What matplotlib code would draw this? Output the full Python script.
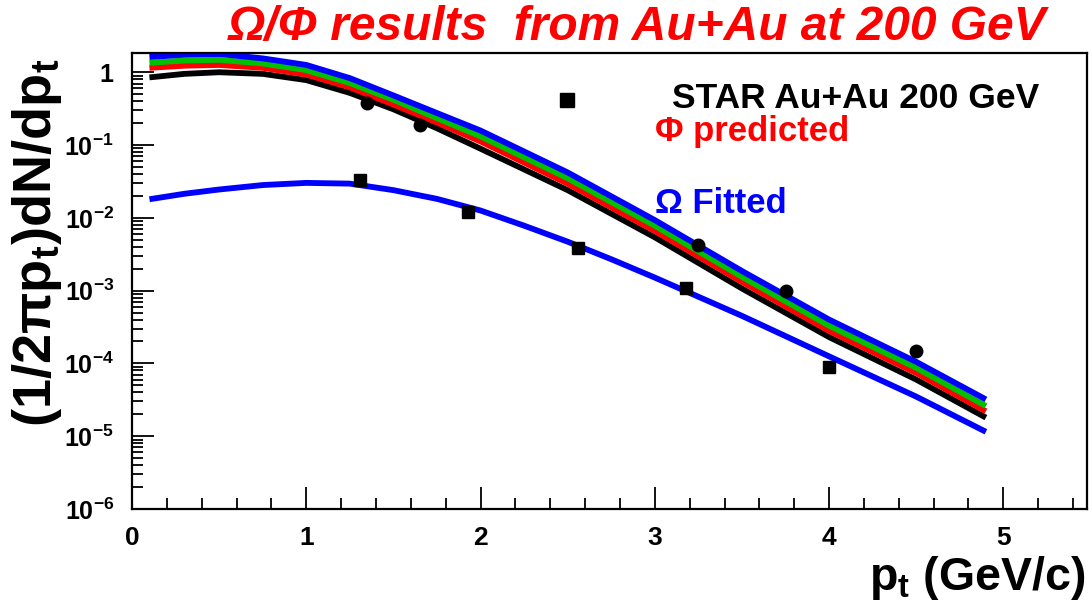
import numpy as np
import matplotlib.pyplot as plt
from matplotlib.ticker import FixedLocator, FixedFormatter, MultipleLocator, LogLocator, NullFormatter

# model curves: (1/2 pi pt) dN/dpt vs pt (GeV/c)
pt_model = [0.1, 0.3, 0.5, 0.75, 1.0, 1.25, 1.5, 1.75, 2.0, 2.5, 3.0, 3.5, 4.0, 4.5, 4.9]
phi_blue = [1.62, 1.74, 1.78, 1.55, 1.26, 0.83, 0.48, 0.275, 0.158, 0.042, 9.3e-3, 1.86e-3, 4.0e-4, 1.05e-4, 3.2e-5]
phi_green = [1.35, 1.45, 1.48, 1.32, 1.07, 0.71, 0.42, 0.234, 0.132, 0.035, 7.8e-3, 1.55e-3, 3.3e-4, 8.7e-5, 2.6e-5]
phi_red = [1.15, 1.23, 1.26, 1.15, 0.93, 0.62, 0.36, 0.204, 0.112, 0.0295, 6.6e-3, 1.32e-3, 2.8e-4, 7.4e-5, 2.2e-5]
phi_black = [0.85, 0.95, 1.0, 0.95, 0.78, 0.52, 0.31, 0.17, 0.089, 0.024, 5.4e-3, 1.07e-3, 2.3e-4, 6.0e-5, 1.8e-5]

pt_omega = [0.1, 0.3, 0.5, 0.75, 1.0, 1.25, 1.5, 1.75, 2.0, 2.25, 2.5, 2.75, 3.0, 3.5, 4.0, 4.5, 4.9]
omega_fit = [0.018, 0.0214, 0.0245, 0.0282, 0.0302, 0.0295, 0.024, 0.0182, 0.0126, 7.8e-3, 4.7e-3,
             2.7e-3, 1.51e-3, 4.5e-4, 1.25e-4, 3.5e-5, 1.15e-5]

# STAR data points
omega_pt = [1.31, 1.93, 2.56, 3.18, 4.0]
omega_y = [0.033, 0.012, 3.8e-3, 1.1e-3, 9.0e-5]
phi_pt = [1.35, 1.65, 3.25, 3.75, 4.5]
phi_y = [0.38, 0.19, 4.2e-3, 1.0e-3, 1.5e-4]

x_ticks = [0, 1, 2, 3, 4, 5]
y_ticks = [1e-6, 1e-5, 1e-4, 1e-3, 1e-2, 1e-1, 1]
y_labels = [r'$\mathbf{10^{-6}}$', r'$\mathbf{10^{-5}}$', r'$\mathbf{10^{-4}}$', r'$\mathbf{10^{-3}}$',
            r'$\mathbf{10^{-2}}$', r'$\mathbf{10^{-1}}$', r'$\mathbf{1}$']

plt.rcParams['font.family'] = ['Liberation Sans', 'DejaVu Sans']
plt.rcParams['mathtext.fontset'] = 'custom'
plt.rcParams['mathtext.rm'] = 'Liberation Sans'
plt.rcParams['mathtext.bf'] = 'Liberation Sans:bold'
plt.rcParams['mathtext.it'] = 'Liberation Sans:italic'

fig = plt.figure(figsize=(10.92, 6.04), dpi=100)
ax = fig.add_axes([0.1209, 0.1573, 0.8745, 0.755])

ax.plot(pt_model, phi_black, color='black', lw=4.2, solid_capstyle='butt')
ax.plot(pt_model, phi_red, color='#ff0000', lw=4.2, solid_capstyle='butt')
ax.plot(pt_model, phi_green, color='#00c000', lw=4.2, solid_capstyle='butt')
ax.plot(pt_model, phi_blue, color='#0000ff', lw=4.2, solid_capstyle='butt')
ax.plot(pt_omega, omega_fit, color='#0000ff', lw=4.2, solid_capstyle='butt')

ax.plot(omega_pt, omega_y, 's', color='black', ms=8.5, zorder=5)
ax.plot(phi_pt, phi_y, 'o', color='black', ms=9, zorder=5)

ax.set_yscale('log')
ax.set_xlim(0, 5.48)
ax.set_ylim(1e-6, 1.84)

ax.xaxis.set_major_locator(FixedLocator(x_ticks))
ax.xaxis.set_minor_locator(MultipleLocator(0.2))
ax.yaxis.set_major_locator(FixedLocator(y_ticks))
ax.yaxis.set_major_formatter(FixedFormatter(y_labels))
ax.yaxis.set_minor_locator(LogLocator(base=10, subs=np.arange(2, 10)))
ax.yaxis.set_minor_formatter(NullFormatter())

ax.tick_params(axis='both', which='major', direction='in', length=16, width=1.3,
               top=False, right=False)
ax.tick_params(axis='both', which='minor', direction='in', length=8, width=1.3, top=False, right=False)
ax.tick_params(axis='y', which='major', pad=13, labelsize=18)
ax.tick_params(axis='x', which='major', pad=12, labelsize=19)
for lab in ax.get_xticklabels():
    lab.set_fontweight('bold')
for sp in ax.spines.values():
    sp.set_linewidth(1.6)

# legend drawn in the upper right
ax.plot([0.456], [0.897], 's', color='black', ms=10, transform=ax.transAxes, clip_on=False)
ax.text(0.565, 0.901, 'STAR Au+Au 200 GeV', transform=ax.transAxes, fontsize=25.5,
        fontweight='bold', color='black', va='center', ha='left')
ax.text(0.548, 0.827, '\u03a6 predicted', transform=ax.transAxes, fontsize=25,
        fontweight='bold', color='#ff0000', va='center', ha='left')
ax.text(0.548, 0.669, '\u03a9 Fitted', transform=ax.transAxes, fontsize=25,
        fontweight='bold', color='#0000ff', va='center', ha='left')

fig.text(0.583, 0.955, '\u03a9/\u03a6 results  from Au+Au at 200 GeV', color='#ff0000',
         fontsize=34.5, fontweight='bold', fontstyle='italic', ha='center', va='center')
fig.text(0.034, 0.598, '(1/2\u03c0p$_\\mathbf{t}$)dN/dp$_\\mathbf{t}$', rotation=90, fontsize=39,
         fontweight='bold', ha='center', va='center')
fig.text(0.9936, 0.043, 'p$_\\mathbf{t}$ (GeV/c)', fontsize=33.5, fontweight='bold',
         ha='right', va='center')

fig.savefig('out.png', dpi=100)
